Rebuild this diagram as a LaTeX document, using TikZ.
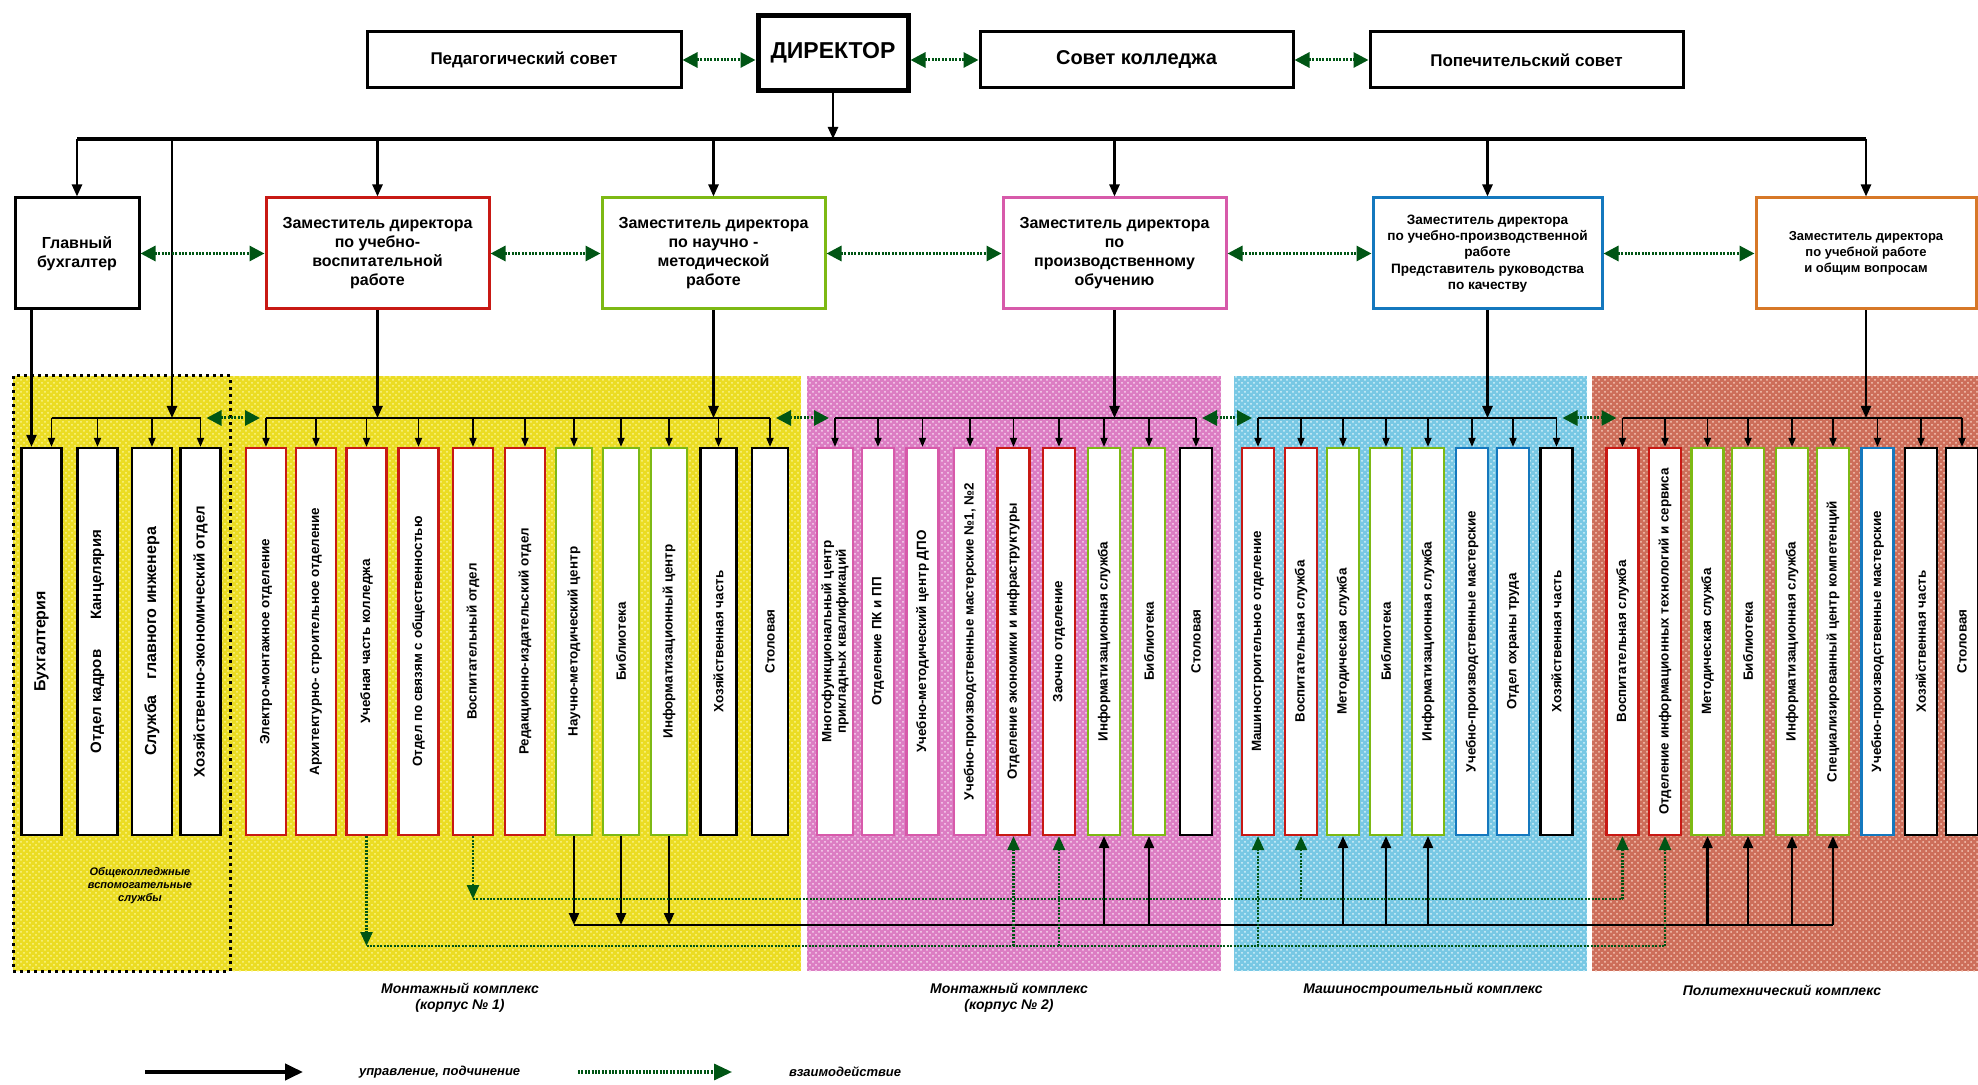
\documentclass[tikz,border=0pt]{standalone}
\usepackage{fontspec}
\setmainfont{Liberation Sans}
\usetikzlibrary{arrows.meta,patterns}

\definecolor{dkgreen}{RGB}{0,85,20}
\definecolor{cred}{RGB}{200,25,20}
\definecolor{cgreen}{RGB}{125,185,20}
\definecolor{cpink}{RGB}{215,90,170}
\definecolor{cblue}{RGB}{20,120,190}
\definecolor{corange}{RGB}{215,120,40}
\definecolor{zyellow}{RGB}{235,220,35}
\definecolor{zyellowl}{RGB}{250,245,140}
\definecolor{zpink}{RGB}{220,125,195}
\definecolor{zpinkl}{RGB}{248,215,240}
\definecolor{zblue}{RGB}{120,200,228}
\definecolor{zbluel}{RGB}{215,242,250}
\definecolor{zred}{RGB}{205,110,90}
\definecolor{zredl}{RGB}{245,200,185}

\tikzset{
  hbox/.style={draw, line width=1.5pt, fill=white, minimum height=28pt,
    font=\bfseries\fontsize{8.5}{10}\selectfont},
  dbox/.style={draw=#1, line width=1.5pt, fill=white, minimum height=55.5pt,
    align=center, inner sep=2pt, font=\bfseries\fontsize{8}{9.5}\selectfont},
  vbox/.style={draw=#1, line width=1.1pt, fill=white, rotate=90,
    minimum width=193.5pt, minimum height=16pt, inner sep=1pt, align=center,
    font=\bfseries\fontsize{6.7}{7.3}\selectfont},
  vboxw/.style={vbox=#1, minimum height=20pt},
  ctl/.style={line width=1.2pt, -{Triangle[length=6pt,width=5pt]}},
  ctls/.style={line width=0.9pt, -{Triangle[length=4.5pt,width=3.5pt]}},
  busline/.style={line width=1.3pt},
  inter/.style={dkgreen, line width=1.5pt, dash pattern=on 1pt off 0.7pt,
    {Triangle[length=7.5pt,width=7.5pt]}-{Triangle[length=7.5pt,width=7.5pt]}},
  inter1/.style={dkgreen, line width=1.2pt, dash pattern=on 1pt off 0.7pt,
    -{Triangle[length=7pt,width=6pt]}},
  dline/.style={dkgreen, line width=1.2pt, dash pattern=on 1pt off 0.7pt},
  zlabel/.style={font=\bfseries\itshape\fontsize{7}{8}\selectfont, align=center}
}

\begin{document}
\begin{tikzpicture}[x=0.5pt,y=-0.5pt]
\useasboundingbox (0,0) rectangle (1978,1085);

% zones
\fill[zyellow] (13,376) rectangle (801,971);
\fill[pattern=crosshatch dots, pattern color=zyellowl] (13,376) rectangle (801,971);
\fill[zpink] (807,376) rectangle (1221,971);
\fill[pattern=crosshatch dots, pattern color=zpinkl] (807,376) rectangle (1221,971);
\fill[zblue] (1234,376) rectangle (1587,971);
\fill[pattern=crosshatch dots, pattern color=zbluel] (1234,376) rectangle (1587,971);
\fill[zred] (1592,376) rectangle (1978,971);
\fill[pattern=crosshatch dots, pattern color=zredl] (1592,376) rectangle (1978,971);
\draw[dotted, line width=1.5pt] (13,376) rectangle (230,971);

% top row
\node[hbox, minimum width=157pt] (ped) at (524,60) {Педагогический совет};
\node[hbox, line width=2.5pt, minimum width=75pt, minimum height=37.5pt,
  font=\bfseries\fontsize{11.5}{13}\selectfont, anchor=north] (dir) at (833,13) {ДИРЕКТОР};
\node[hbox, minimum width=156.5pt, font=\bfseries\fontsize{10}{12}\selectfont] (sk) at (1136.5,60) {Совет колледжа};
\node[hbox, minimum width=156.5pt] (pop) at (1526.5,60) {Попечительский совет};

% deputies
\node[dbox=black, minimum width=62pt] (gb) at (77,253.5) {Главный\\бухгалтер};
\node[dbox=cred, minimum width=111.5pt] (uvr) at (377.5,253.5) {Заместитель директора\\по учебно-\\воспитательной\\работе};
\node[dbox=cgreen, minimum width=111.5pt] (nmr) at (713.5,253.5) {Заместитель директора\\по научно -\\методической\\работе};
\node[dbox=cpink, minimum width=111.5pt] (po) at (1114.5,253.5) {Заместитель директора\\по\\производственному\\обучению};
\node[dbox=cblue, minimum width=114.5pt, font=\bfseries\fontsize{6.8}{8.2}\selectfont] (upr) at (1487.5,253.5) {Заместитель директора\\по учебно-производственной\\работе\\Представитель руководства\\по качеству};
\node[dbox=corange, minimum width=110pt, font=\bfseries\fontsize{6.5}{8}\selectfont] (ov) at (1866,253.5) {Заместитель директора\\по учебной работе\\и общим вопросам};

% units, Монтажный комплекс (корпус 1)
\node[vboxw=black, font=\bfseries\fontsize{8}{9}\selectfont] (b1) at (41.5,641.5) {Бухгалтерия};
\node[vboxw=black, font=\bfseries\fontsize{7.5}{9}\selectfont] (b2) at (97.5,641.5) {Отдел кадров\quad\quad Канцелярия};
\node[vboxw=black, font=\bfseries\fontsize{8}{9}\selectfont] (b3) at (152,641.5) {Служба\quad главного инженера};
\node[vboxw=black, font=\bfseries\fontsize{7.5}{9}\selectfont] (b4) at (200.5,641.5) {Хозяйственно-экономический отдел};
\node[vboxw=cred] (b5) at (266,641.5) {Электро-монтажное отделение};
\node[vboxw=cred] (b6) at (316,641.5) {Архитектурно- строительное отделение};
\node[vboxw=cred] (b7) at (366.5,641.5) {Учебная часть колледжа};
\node[vboxw=cred] (b8) at (418.5,641.5) {Отдел по связям с общественностью};
\node[vboxw=cred] (b9) at (473,641.5) {Воспитательный отдел};
\node[vboxw=cred] (b10) at (525,641.5) {Редакционно-издательский отдел};
\node[vbox=cgreen, minimum height=18pt] (b11) at (574,641.5) {Научно-методический центр};
\node[vbox=cgreen, minimum height=18pt] (b12) at (621,641.5) {Библиотека};
\node[vbox=cgreen, minimum height=18pt] (b13) at (669,641.5) {Информатизационный центр};
\node[vbox=black, minimum height=18pt] (b14) at (718.5,641.5) {Хозяйственная часть};
\node[vbox=black, minimum height=18pt] (b15) at (770,641.5) {Столовая};

% Монтажный комплекс (корпус 2)
\node[vbox=cpink, minimum height=18pt] (b16) at (835,641.5) {Многофункциональный центр\\прикладных квалификаций};
\node[vbox=cpink] (b17) at (878,641.5) {Отделение ПК и ПП};
\node[vbox=cpink] (b18) at (922.5,641.5) {Учебно-методический центр ДПО};
\node[vbox=cpink] (b19) at (970,641.5) {Учебно-производственные мастерские №1, №2};
\node[vbox=cred] (b20) at (1013.5,641.5) {Отделение экономики и инфраструктуры};
\node[vbox=cred] (b21) at (1059,641.5) {Заочно отделение};
\node[vbox=cgreen] (b22) at (1104,641.5) {Информатизационная служба};
\node[vbox=cgreen] (b23) at (1149,641.5) {Библиотека};
\node[vbox=black] (b24) at (1196,641.5) {Столовая};

% Машиностроительный комплекс
\node[vbox=cred] (b25) at (1258,641.5) {Машиностроительное отделение};
\node[vbox=cred] (b26) at (1301,641.5) {Воспитательная служба};
\node[vbox=cgreen] (b27) at (1343,641.5) {Методическая служба};
\node[vbox=cgreen] (b28) at (1386,641.5) {Библиотека};
\node[vbox=cgreen] (b29) at (1428,641.5) {Информатизационная служба};
\node[vbox=cblue] (b30) at (1472,641.5) {Учебно-производственные мастерские};
\node[vbox=cblue] (b31) at (1513,641.5) {Отдел охраны труда};
\node[vbox=black] (b32) at (1556.5,641.5) {Хозяйственная часть};

% Политехнический комплекс
\node[vbox=cred] (b33) at (1622.5,641.5) {Воспитательная служба};
\node[vbox=cred] (b34) at (1665,641.5) {Отделение информационных технологий и сервиса};
\node[vbox=cgreen] (b35) at (1707.5,641.5) {Методическая служба};
\node[vbox=cgreen] (b36) at (1748,641.5) {Библиотека};
\node[vbox=cgreen] (b37) at (1792,641.5) {Информатизационная служба};
\node[vbox=cgreen] (b38) at (1833,641.5) {Специализированный центр компетенций};
\node[vbox=cblue] (b39) at (1877.5,641.5) {Учебно-производственные мастерские};
\node[vbox=black] (b40) at (1921,641.5) {Хозяйственная часть};
\node[vbox=black] (b41) at (1962,641.5) {Столовая};

% labels
\node[zlabel, font=\bfseries\itshape\fontsize{5.5}{6.5}\selectfont] (zl0) at (140,886) {Общеколледжные\\вспомогательные\\службы};
\node[zlabel] (zl1) at (460,998) {Монтажный комплекс\\(корпус № 1)};
\node[zlabel] (zl2) at (1009,998) {Монтажный комплекс\\(корпус № 2)};
\node[zlabel] (zl3) at (1423,990) {Машиностроительный комплекс};
\node[zlabel] (zl4) at (1782,990) {Политехнический комплекс};

% helper points
\coordinate (bus) at (833,139);
\coordinate (pass) at (172,139);
\coordinate (lbus) at (0,418);
\coordinate (sol) at (0,925);
\coordinate (upd) at (0,899);
\coordinate (lod) at (0,946);
\coordinate (b1a) at ([xshift=5pt]b1.east);
\coordinate (b1g) at ([xshift=-5pt]b1.east);

% top links
\draw[inter] (ped.east) -- (ped.east -| dir.west);
\draw[inter] (dir.east |- sk.west) -- (sk.west);
\draw[inter] (sk.east) -- (pop.west);
\draw[ctl] (dir.south) -- (bus);
\draw[line width=2pt] (gb.north |- bus) -- (ov.north |- bus);
\draw[ctl] (gb.north |- bus) -- (gb.north);
\draw[ctl] (uvr.north |- bus) -- (uvr.north);
\draw[ctl] (nmr.north |- bus) -- (nmr.north);
\draw[ctl] (po.north |- bus) -- (po.north);
\draw[ctl] (upr.north |- bus) -- (upr.north);
\draw[ctl] (ov.north |- bus) -- (ov.north);
\draw[ctl] (pass) -- (pass |- lbus);

% deputies
\draw[inter] (gb.east) -- (uvr.west);
\draw[inter] (uvr.east) -- (nmr.west);
\draw[inter] (nmr.east) -- (po.west);
\draw[inter] (po.east) -- (upr.west);
\draw[inter] (upr.east) -- (ov.west);
\draw[ctl] (gb.south -| b1g) -- (b1g);
\draw[ctl] (uvr.south) -- (uvr.south |- lbus);
\draw[ctl] (nmr.south) -- (nmr.south |- lbus);
\draw[ctl] (po.south) -- (po.south |- lbus);
\draw[ctl] (upr.south) -- (upr.south |- lbus);
\draw[ctl] (ov.south) -- (ov.south |- lbus);

% lower buses
\draw[busline] (b1a |- lbus) -- (b4.east |- lbus);
\draw[busline] (b5.east |- lbus) -- (b15.east |- lbus);
\draw[busline] (b16.east |- lbus) -- (b24.east |- lbus);
\draw[busline] (b25.east |- lbus) -- (b32.east |- lbus);
\draw[busline] (b33.east |- lbus) -- (b41.east |- lbus);
\draw[inter, shorten <=3pt, shorten >=3pt] (b4.east |- lbus) -- (b5.east |- lbus);
\draw[inter, shorten <=3pt, shorten >=3pt] (b15.east |- lbus) -- (b16.east |- lbus);
\draw[inter, shorten <=3pt, shorten >=3pt] (b24.east |- lbus) -- (b25.east |- lbus);
\draw[inter, shorten <=3pt, shorten >=3pt] (b32.east |- lbus) -- (b33.east |- lbus);
\draw[ctls] (b1a |- lbus) -- (b1a);
\draw[ctls] (b2.east |- lbus) -- (b2.east);
\draw[ctls] (b3.east |- lbus) -- (b3.east);
\draw[ctls] (b4.east |- lbus) -- (b4.east);
\draw[ctls] (b5.east |- lbus) -- (b5.east);
\draw[ctls] (b6.east |- lbus) -- (b6.east);
\draw[ctls] (b7.east |- lbus) -- (b7.east);
\draw[ctls] (b8.east |- lbus) -- (b8.east);
\draw[ctls] (b9.east |- lbus) -- (b9.east);
\draw[ctls] (b10.east |- lbus) -- (b10.east);
\draw[ctls] (b11.east |- lbus) -- (b11.east);
\draw[ctls] (b12.east |- lbus) -- (b12.east);
\draw[ctls] (b13.east |- lbus) -- (b13.east);
\draw[ctls] (b14.east |- lbus) -- (b14.east);
\draw[ctls] (b15.east |- lbus) -- (b15.east);
\draw[ctls] (b16.east |- lbus) -- (b16.east);
\draw[ctls] (b17.east |- lbus) -- (b17.east);
\draw[ctls] (b18.east |- lbus) -- (b18.east);
\draw[ctls] (b19.east |- lbus) -- (b19.east);
\draw[ctls] (b20.east |- lbus) -- (b20.east);
\draw[ctls] (b21.east |- lbus) -- (b21.east);
\draw[ctls] (b22.east |- lbus) -- (b22.east);
\draw[ctls] (b23.east |- lbus) -- (b23.east);
\draw[ctls] (b24.east |- lbus) -- (b24.east);
\draw[ctls] (b25.east |- lbus) -- (b25.east);
\draw[ctls] (b26.east |- lbus) -- (b26.east);
\draw[ctls] (b27.east |- lbus) -- (b27.east);
\draw[ctls] (b28.east |- lbus) -- (b28.east);
\draw[ctls] (b29.east |- lbus) -- (b29.east);
\draw[ctls] (b30.east |- lbus) -- (b30.east);
\draw[ctls] (b31.east |- lbus) -- (b31.east);
\draw[ctls] (b32.east |- lbus) -- (b32.east);
\draw[ctls] (b33.east |- lbus) -- (b33.east);
\draw[ctls] (b34.east |- lbus) -- (b34.east);
\draw[ctls] (b35.east |- lbus) -- (b35.east);
\draw[ctls] (b36.east |- lbus) -- (b36.east);
\draw[ctls] (b37.east |- lbus) -- (b37.east);
\draw[ctls] (b38.east |- lbus) -- (b38.east);
\draw[ctls] (b39.east |- lbus) -- (b39.east);
\draw[ctls] (b40.east |- lbus) -- (b40.east);
\draw[ctls] (b41.east |- lbus) -- (b41.east);

% methodical services (solid)
\draw[ctl] (b11.west) -- (b11.west |- sol);
\draw[ctl] (b12.west) -- (b12.west |- sol);
\draw[ctl] (b13.west) -- (b13.west |- sol);
\draw[busline] (b11.west |- sol) -- (b38.west |- sol);
\draw[ctl] (b22.west |- sol) -- (b22.west);
\draw[ctl] (b23.west |- sol) -- (b23.west);
\draw[ctl] (b27.west |- sol) -- (b27.west);
\draw[ctl] (b28.west |- sol) -- (b28.west);
\draw[ctl] (b29.west |- sol) -- (b29.west);
\draw[ctl] (b35.west |- sol) -- (b35.west);
\draw[ctl] (b36.west |- sol) -- (b36.west);
\draw[ctl] (b37.west |- sol) -- (b37.west);
\draw[ctl] (b38.west |- sol) -- (b38.west);

% educational work (dotted)
\draw[inter1] (b9.west) -- (b9.west |- upd);
\draw[dline] (b9.west |- upd) -- (b33.west |- upd);
\draw[inter1] (b26.west |- upd) -- (b26.west);
\draw[inter1] (b33.west |- upd) -- (b33.west);

% departments (dotted)
\draw[inter1] (b7.west) -- (b7.west |- lod);
\draw[dline] (b7.west |- lod) -- (b34.west |- lod);
\draw[inter1] (b20.west |- lod) -- (b20.west);
\draw[inter1] (b21.west |- lod) -- (b21.west);
\draw[inter1] (b25.west |- lod) -- (b25.west);
\draw[inter1] (b34.west |- lod) -- (b34.west);

% legend
\coordinate (lga) at (145,1072);
\coordinate (lgb) at (303,1072);
\coordinate (lgc) at (578,1072);
\coordinate (lgd) at (732,1072);
\draw[line width=2pt, -{Triangle[length=9pt,width=8pt]}] (lga) -- (lgb);
\node[zlabel, anchor=west, font=\bfseries\itshape\fontsize{6.5}{7.5}\selectfont] (lgt1) at (352,1072) {управление, подчинение};
\draw[inter1, line width=1.6pt, -{Triangle[length=9pt,width=8pt]}] (lgc) -- (lgd);
\node[zlabel, anchor=west, font=\bfseries\itshape\fontsize{6.5}{7.5}\selectfont] (lgt2) at (782,1072) {взаимодействие};
\end{tikzpicture}
\end{document}
